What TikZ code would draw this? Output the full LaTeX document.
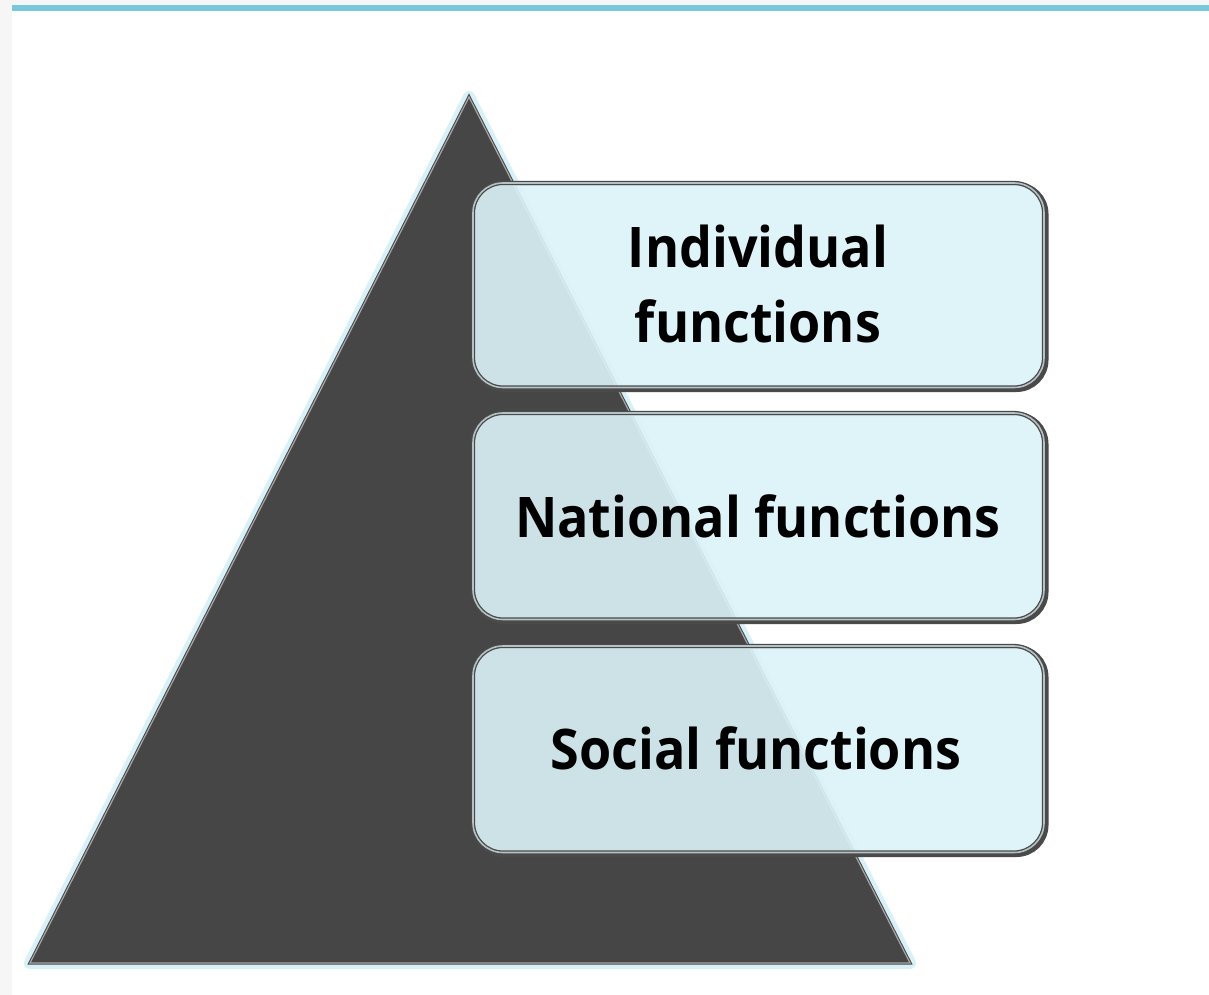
\documentclass[tikz,border=0pt]{standalone}
\usepackage{fontspec}
\setmainfont{Open Sans}[FakeStretch=0.93]
\definecolor{pagebg}{HTML}{F6F6F6}
\definecolor{bandblue}{HTML}{78C8DC}
\definecolor{tridark}{HTML}{464646}
\definecolor{glow}{HTML}{D8F1F8}
\definecolor{boxfill}{RGB}{220,243,248}
\definecolor{boxedge}{HTML}{4A4A4A}
\definecolor{boxinner}{HTML}{B4C2C6}
\tikzset{
  px/.style={x=1pt,y=-1pt},
  funcbox/.style={rounded corners=30pt, fill=boxfill, fill opacity=0.9, draw=boxedge, line width=1.3pt, double=boxinner, double distance=1.6pt},
  funcshadow/.style={rounded corners=30pt, draw=boxedge, line width=4pt},
  functext/.style={font=\bfseries\fontsize{56}{75}\selectfont, align=center, text=black, inner sep=0pt}
}
\begin{document}
\begin{tikzpicture}[px]
\useasboundingbox (0,0) rectangle (1209,995);
\fill[pagebg] (0,0) rectangle (1209,995);
\fill[white] (12,11) rectangle (1209,995);
\fill[bandblue] (12,5) rectangle (1209,11);
% pyramid
\coordinate (apex) at (469,97);
\coordinate (bl) at (30,963);
\coordinate (br) at (910,963);
\draw[glow, line width=12pt, line join=round] (apex) -- (bl) -- (br) -- cycle;
\draw[fill=tridark, draw=tridark, line width=1pt, double=gray!70, double distance=1.2pt, line join=miter] (apex) -- (bl) -- (br) -- cycle;
% boxes
\foreach \n/\t/\b in {one/182/390, two/412/622, three/645/855}{
  \draw[funcshadow] (474,\t+2) rectangle (1046.5,\b);
  \draw[funcbox] (473,\t+1) rectangle (1044,\b-2.5);
}
\node[functext] (ind) at (758,284) {Individual\\functions};
\node[functext] (nat) at (758,516) {National functions};
\node[functext] (soc) at (756,748) {Social functions};
\end{tikzpicture}
\end{document}
